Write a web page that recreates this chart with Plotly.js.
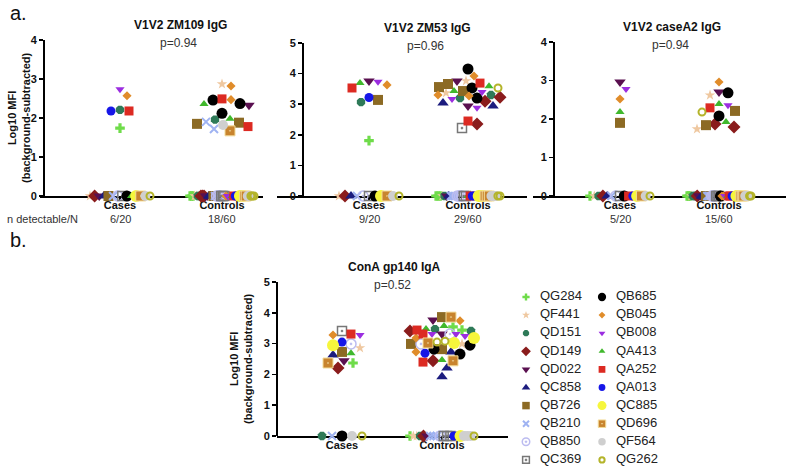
<!DOCTYPE html>
<html><head><meta charset="utf-8">
<script src="https://cdn.plot.ly/plotly-3.0.1.min.js"></script>
<style>html,body{margin:0;padding:0;background:#fff}#chart{width:790px;height:468px}</style>
</head><body><div id="chart"></div>
<script>
// ---------------- DATA ----------------
const subjects = ['QG284','QF441','QD151','QD149','QD022','QC858','QB726','QB210','QB850','QC369',
                  'QB685','QB045','QB008','QA413','QA252','QA013','QC885','QD696','QF564','QG262'];
const groupLabels = ['Cases','Controls'];
const panelTitles = ['V1V2 ZM109 IgG','V1V2 ZM53 IgG','V1V2 caseA2 IgG','ConA gp140 IgA'];
const pValues = ['p=0.94','p=0.96','p=0.94','p=0.52'];
const nDetectable = [['6/20','18/60'],['9/20','29/60'],['5/20','15/60']];

// Log10 MFI (background-subtracted); 0 = not detectable. Cases: one per subject, Controls: three per subject.
const zm109Cases = [1.74,0,2.21,0,0,0,0,0,0,0, 0,2.57,2.74,0,2.18,2.18,0,0,0,0];
const zm109Controls = [[0,0,0],[2.87,0,0],[1.96,0,0],[0,0,0],[2.33,0,0],[0,0,0],[1.85,1.88,0],[1.90,1.72,0],[0,0,0],[0,0,0],
  [2.46,2.37,2.12],[2.82,2.47,0],[0,0,0],[2.36,1.98,0],[2.49,1.78,0],[0,0,0],[0,0,0],[1.67,0,0],[1.82,0,0],[0,0,0]];

const zm53Cases = [1.81,0,3.07,0,3.76,0,3.14,0,0,0, 0,3.63,3.73,3.69,3.53,3.22,0,0,0,0];
const zm53Controls = [[0,0,0],[3.76,3.37,0],[3.30,3.20,0],[3.23,3.10,2.35],[3.76,2.94,0],[3.04,2.94,0],[3.66,3.56,3.43],[0,0,0],[0,0,0],[2.22,0,0],
  [4.15,3.53,3.20],[3.92,3.30,3.27],[3.40,3.17,2.88],[3.59,3.43,0],[3.69,2.45,0],[0,0,0],[0,0,0],[0,0,0],[0,0,0],[3.53,0,0]];

const caseA2Cases = [0,0,0,0,2.96,0,1.90,0,0,0, 0,2.52,2.78,2.18,0,0,0,0,0,0];
const caseA2Controls = [[0,0,0],[2.62,1.74,0],[0,0,0],[1.87,1.79,0],[2.70,0,0],[0,0,0],[2.21,1.84,0],[0,0,0],[0,0,0],[0,0,0],
  [2.68,2.08,0],[2.96,0,0],[2.36,0,0],[2.39,1.92,0],[2.29,0,0],[0,0,0],[0,0,0],[0,0,0],[0,0,0],[2.18,0,0]];

const conaCases = [2.37,2.86,0,2.21,2.44,2.63,2.73,0,2.99,3.41, 0,3.28,3.28,2.69,3.31,3.05,2.95,2.37,0,0];
const conaControls = [[3.54,3.44,0],[2.99,0,0],[3.47,3.41,0],[3.41,2.44,0],[3.77,3.31,0],[2.73,2.21,1.92],[3.86,2.99,2.82],[0,0,0],[3.31,2.99,0],[0,0,0],
  [2.95,2.82,2.66],[3.74,3.18,2.73],[3.31,3.31,3.25],[3.57,3.47,2.47],[3.44,3.31,2.40],[2.69,0,0],[3.18,3.02,0],[3.86,3.02,2.44],[0,0,0],[3.08,3.05,0]];

const panelCases = [zm109Cases, zm53Cases, caseA2Cases, conaCases];
const panelControls = [zm109Controls, zm53Controls, caseA2Controls, conaControls];

// ---------------- STYLE / LAYOUT ----------------
const W = 790, H = 468;
const FONT = 'Liberation Sans, Arial, Helvetica, sans-serif';
const markerStyles = {
  QG284:{symbol:'cross',color:'#6fdc4a',size:8},
  QF441:{symbol:'star',color:'#efc8a0',size:8},
  QD151:{symbol:'octagon',color:'#2e7a58',size:9},
  QD149:{symbol:'diamond',color:'#8a1c1c',size:10},
  QD022:{symbol:'triangle-down',color:'#5a1050',size:10},
  QC858:{symbol:'triangle-up',color:'#1c1c7e',size:10},
  QB726:{symbol:'square',color:'#8c6a24',size:10},
  QB210:{symbol:'x-thin-open',color:'#9fb3f2',size:8,lw:2},
  QB850:{symbol:'circle-open-dot',color:'#bcbcf0',size:10,lw:1.5},
  QC369:{symbol:'square-open-dot',color:'#777777',size:9,lw:1.5},
  QB685:{symbol:'circle',color:'#000000',size:11},
  QB045:{symbol:'diamond',color:'#e08c2a',size:7},
  QB008:{symbol:'triangle-down',color:'#9b2de0',size:8},
  QA413:{symbol:'triangle-up',color:'#40b82c',size:8},
  QA252:{symbol:'square',color:'#dc2a22',size:9},
  QA013:{symbol:'circle',color:'#1616e8',size:9},
  QC885:{symbol:'circle',color:'#f6f63c',size:12},
  QD696:{symbol:'square-dot',color:'#c8842e',size:10,lc:'#f3dc9a',lw:1},
  QF564:{symbol:'circle',color:'#cfcfcf',size:10},
  QG262:{symbol:'circle-open',color:'#b4b42a',size:7,lw:2}
};
// pixel geometry of each panel (axis frame, group centres, title centre)
const geom = [
  {xd:[40,263], yx:44,  top:40,  zero:196, ymax:4, cx:[120,222], tx:180, caseHalf:30, ctrlHalf:32},
  {xd:[277,527], yx:303, top:43,  zero:196, ymax:5, cx:[369,468], tx:427, caseHalf:30, ctrlHalf:32},
  {xd:[533,786], yx:554, top:42,  zero:196, ymax:4, cx:[620,719], tx:672, caseHalf:30, ctrlHalf:32},
  {xd:[277,508], yx:277, top:282, zero:436, ymax:5, cx:[342,442], tx:394, caseHalf:22, ctrlHalf:32}
];
const px = x => x / W, py = y => 1 - y / H;

function mk(st, scale){
  const m = {symbol:st.symbol, color:st.color, size:st.size*(scale||1)};
  if (st.lw) m.line = {color: st.lc || st.color, width: st.lw};
  else m.line = {width:0};
  return m;
}

// place points: capped beeswarm for detectable values, evenly spread along zero line for non-detectable
function placeGroup(points, g, pxPerY, unit, half){
  const nz = points.filter(p => p.v > 0).sort((a,b) => b.v - a.v);
  const z = points.filter(p => !(p.v > 0));
  const placed = [];
  nz.forEach(p => {
    const yy = p.v * pxPerY;
    let best = 0, found = false;
    for (let dd = 9; dd > 1 && !found; dd *= 0.85) {
      for (let k = 0; k <= 2 * half; k++) {
        const dx = (k % 2 ? 1 : -1) * Math.ceil(k / 2);
        if (Math.abs(dx) > half) break;
        if (placed.every(q => (dx - q.dx) ** 2 + (yy - q.yy) ** 2 >= dd * dd)) { best = dx; found = true; break; }
      }
    }
    placed.push({dx:best, yy});
    p.x = g + 1 + best / unit;
  });
  const n = z.length;
  const sp = n > 1 ? Math.min(10, 2 * half / (n - 1)) : 0;
  z.forEach((p, i) => { p.x = g + 1 + ((i - (n - 1) / 2) * sp) / unit; });
  return points;
}

const traces = [];
const layout = {
  width: W, height: H, margin:{l:0,r:0,t:0,b:0},
  paper_bgcolor:'#fff', plot_bgcolor:'rgba(0,0,0,0)',
  showlegend:false, font:{family:FONT, color:'#222'},
  annotations: [], hovermode:false
};

geom.forEach((G, p) => {
  const sfx = p === 0 ? '' : String(p + 1);
  const unit = G.cx[1] - G.cx[0];
  const pxPerY = (G.zero - G.top) / G.ymax;
  layout['xaxis' + sfx] = {
    domain:[px(G.xd[0]), px(G.xd[1])],
    range:[1 + (G.xd[0] - G.cx[0]) / unit, 1 + (G.xd[1] - G.cx[0]) / unit],
    anchor:'y' + sfx, tickvals:[1,2], ticktext:groupLabels,
    ticks:'outside', ticklen:3, tickwidth:1.5, tickcolor:'#000', ticklabelstandoff:-5,
    showline:true, linewidth:2, linecolor:'#000', layer:'below traces',
    showgrid:false, zeroline:false, fixedrange:true,
    tickfont:{family:FONT, size:11, color:'#111', weight:'bold'}
  };
  layout['yaxis' + sfx] = {
    domain:[py(G.zero), py(G.top)], range:[0, G.ymax], anchor:'free', position:px(G.yx),
    dtick:1, ticks:'outside', ticklen:4, tickwidth:1.5, tickcolor:'#000',
    showline:true, linewidth:2, linecolor:'#000', layer:'below traces',
    showgrid:false, zeroline:false, fixedrange:true,
    tickfont:{family:FONT, size:11, color:'#111', weight:'bold'}
  };
  const bySubj = subjects.map(() => ({x:[], y:[]}));
  const casePts = placeGroup(panelCases[p].map((v, s) => ({s, v})), 0, pxPerY, unit, G.caseHalf);
  const ctrlPts = placeGroup(panelControls[p].flatMap((arr, s) => arr.map(v => ({s, v}))), 1, pxPerY, unit, G.ctrlHalf);
  casePts.concat(ctrlPts).forEach(pt => { bySubj[pt.s].x.push(pt.x); bySubj[pt.s].y.push(pt.v); });
  subjects.forEach((name, s) => {
    traces.push({type:'scatter', mode:'markers', name, xaxis:'x' + sfx, yaxis:'y' + sfx,
      x:bySubj[s].x, y:bySubj[s].y, marker:mk(markerStyles[name]), cliponaxis:false, hoverinfo:'skip'});
  });
  layout.annotations.push({xref:'paper', yref:'paper', x:px(G.tx), y:py(G.top - 15), text:'<b>' + panelTitles[p] + '</b>',
    showarrow:false, font:{family:FONT, size:12, color:'#111'}, xanchor:'center', yanchor:'middle'});
  layout.annotations.push({xref:'paper', yref:'paper', x:px(G.tx - 2), y:py(G.top + 3), text:pValues[p],
    showarrow:false, font:{family:FONT, size:12, color:'#333'}, xanchor:'center', yanchor:'middle'});
  if (p < 3) {
    nDetectable[p].forEach((t, g) => layout.annotations.push({xref:'paper', yref:'paper', x:px(G.cx[g]), y:py(219), text:t,
      showarrow:false, font:{family:FONT, size:11, color:'#333'}, xanchor:'center', yanchor:'middle'}));
  }
});

layout.annotations.push({xref:'paper', yref:'paper', x:px(5), y:py(219), text:'n detectable/N', showarrow:false,
  font:{family:FONT, size:11, color:'#333'}, xanchor:'left', yanchor:'middle'});
layout.annotations.push({xref:'paper', yref:'paper', x:px(19), y:py(118), text:'<b>Log10 MFI<br>(background-subtracted)</b>',
  textangle:-90, showarrow:false, font:{family:FONT, size:11, color:'#111'}, xanchor:'center', yanchor:'middle'});
layout.annotations.push({xref:'paper', yref:'paper', x:px(241), y:py(359), text:'<b>Log10 MFI<br>(background-subtracted)</b>',
  textangle:-90, showarrow:false, font:{family:FONT, size:11, color:'#111'}, xanchor:'center', yanchor:'middle'});
layout.annotations.push({xref:'paper', yref:'paper', x:px(8), y:py(13), text:'a.', showarrow:false,
  font:{family:FONT, size:20, color:'#111'}, xanchor:'left', yanchor:'middle'});
layout.annotations.push({xref:'paper', yref:'paper', x:px(8), y:py(240), text:'b.', showarrow:false,
  font:{family:FONT, size:20, color:'#111'}, xanchor:'left', yanchor:'middle'});

// custom two-column key
layout.xaxis5 = {domain:[px(500), 1], range:[500, 790], visible:false, fixedrange:true};
layout.yaxis5 = {domain:[0, py(280)], range:[468, 280], visible:false, fixedrange:true, anchor:'x5'};
const keyX = subjects.map((_, s) => 526 + (s < 10 ? 0 : 76));
const keyY = subjects.map((_, s) => 297 + (s % 10) * 18.1);
subjects.forEach((name, s) => {
  traces.push({type:'scatter', mode:'markers', xaxis:'x5', yaxis:'y5', x:[keyX[s]], y:[keyY[s]],
    marker:mk(markerStyles[name], 0.75), cliponaxis:false, hoverinfo:'skip'});
});
traces.push({type:'scatter', mode:'text', xaxis:'x5', yaxis:'y5', x:keyX.map(v => v + 14), y:keyY, text:subjects,
  textposition:'middle right', textfont:{family:FONT, size:13, color:'#222'}, cliponaxis:false, hoverinfo:'skip'});

Plotly.newPlot('chart', traces, layout, {displayModeBar:false, staticPlot:true});
</script></body></html>
